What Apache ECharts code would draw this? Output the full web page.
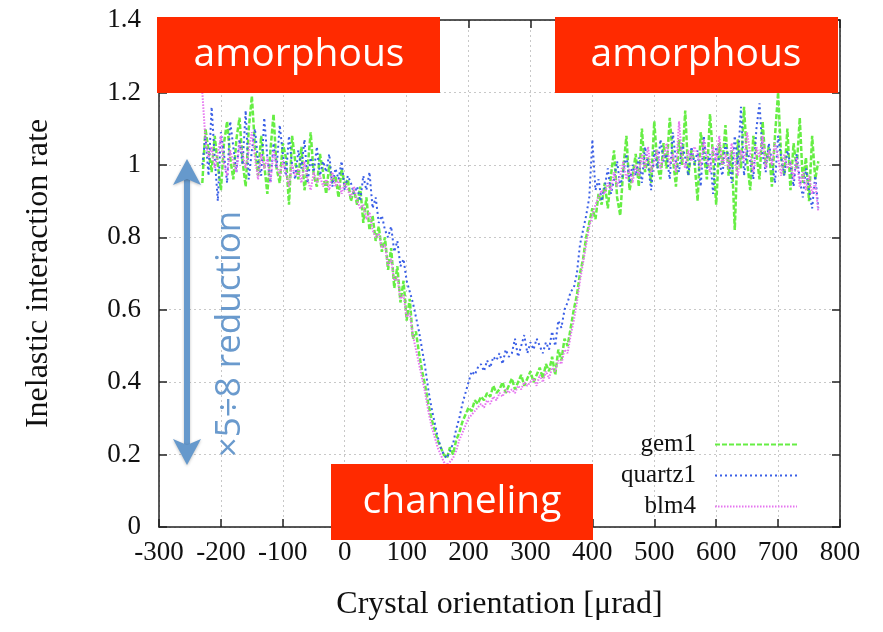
<!DOCTYPE html>
<html>
<head>
<meta charset="utf-8">
<script src="https://cdn.jsdelivr.net/npm/echarts@6/dist/echarts.min.js"></script>
<style>html,body{margin:0;padding:0;background:#fff;}#c{width:883px;height:632px;}</style>
</head>
<body>
<div id="c"></div>
<script>
// sampling grid of crystal orientation [µrad]
const xStart = -230;
const xStep = 5;

const gem1 = [
0.95,1.10,1.04,0.98,1.08,1.00,0.93,1.06,1.12,1.02,
0.96,1.07,1.13,1.01,0.94,1.10,1.19,1.05,0.97,1.08,
1.00,0.92,1.04,1.14,0.99,0.95,1.06,1.02,0.89,1.08,
1.01,0.96,1.05,0.93,0.99,1.09,0.97,0.94,1.03,0.98,
0.92,1.00,0.95,0.97,0.91,0.99,0.94,0.96,0.90,0.93,
0.89,0.94,0.84,0.91,0.82,0.86,0.79,0.83,0.76,0.80,
0.71,0.77,0.66,0.72,0.62,0.68,0.57,0.63,0.52,0.54,
0.48,0.43,0.39,0.34,0.30,0.27,0.24,0.22,0.20,0.19,
0.22,0.20,0.24,0.26,0.29,0.31,0.33,0.32,0.35,0.34,
0.36,0.35,0.37,0.36,0.39,0.37,0.38,0.40,0.37,0.39,
0.41,0.38,0.40,0.42,0.39,0.41,0.43,0.40,0.42,0.44,
0.41,0.45,0.43,0.47,0.42,0.49,0.46,0.52,0.50,0.55,
0.60,0.64,0.70,0.74,0.80,0.84,0.88,0.85,0.92,0.89,
0.95,0.88,0.97,1.04,0.91,0.86,0.99,1.08,0.93,0.97,
1.03,0.94,1.10,0.98,1.02,0.95,1.12,1.00,0.96,1.06,
0.99,1.13,1.02,0.94,1.07,1.00,1.15,0.97,1.04,1.01,
0.90,1.09,1.03,0.96,1.14,1.02,0.89,1.06,1.00,1.11,
0.97,1.04,0.82,1.07,0.99,1.16,1.01,0.93,1.08,1.03,
0.96,1.12,1.00,1.05,0.94,1.08,1.20,1.02,0.97,1.10,
0.93,1.06,0.99,1.13,0.95,1.02,0.90,1.08,0.96,1.01
];

const quartz1 = [
1.00,1.08,0.97,1.16,1.02,0.90,1.09,1.03,0.95,1.12,
1.05,0.98,1.07,1.00,1.15,0.96,1.04,1.10,1.01,0.97,
1.13,1.02,0.95,1.06,0.99,1.11,1.03,0.97,1.08,1.00,
0.96,1.04,0.99,1.07,0.95,1.02,0.98,1.05,0.97,1.01,
0.98,1.03,0.94,0.99,0.96,1.01,0.93,0.97,0.95,0.92,
0.94,0.90,0.97,0.93,0.98,0.88,0.91,0.84,0.86,0.82,
0.80,0.83,0.76,0.79,0.72,0.74,0.68,0.65,0.62,0.58,
0.54,0.49,0.44,0.38,0.33,0.29,0.25,0.22,0.20,0.19,
0.21,0.23,0.27,0.30,0.34,0.37,0.40,0.43,0.42,0.44,
0.45,0.43,0.46,0.44,0.47,0.46,0.48,0.45,0.49,0.47,
0.48,0.52,0.47,0.50,0.53,0.48,0.51,0.49,0.52,0.50,
0.48,0.51,0.49,0.54,0.50,0.57,0.55,0.60,0.62,0.65,
0.66,0.70,0.78,0.82,0.86,0.91,1.07,0.93,0.96,0.90,
0.94,0.99,0.92,0.96,1.01,0.94,0.98,1.03,0.95,1.00,
0.97,1.02,0.95,1.05,1.00,0.93,1.04,0.99,1.07,1.01,
1.03,0.96,1.09,1.01,0.98,1.06,1.02,0.97,1.05,1.00,
1.04,0.94,1.08,0.99,1.03,0.92,1.05,1.01,0.97,1.06,
1.02,0.95,1.08,1.00,1.16,0.97,1.04,1.01,0.96,1.10,
1.17,1.03,0.98,1.06,1.01,0.95,1.08,1.02,0.97,1.04,
1.00,0.94,1.03,0.96,0.91,0.99,0.93,0.88,0.97,0.88
];

const blm4 = [
1.20,1.07,1.02,1.05,0.99,1.03,1.08,1.00,0.97,1.04,
1.01,0.98,1.06,1.03,0.99,1.04,1.09,1.02,0.96,1.03,
0.99,1.02,0.95,1.04,1.00,0.97,1.01,0.98,0.94,1.00,
0.97,0.99,0.95,1.01,0.96,0.93,0.98,0.95,0.97,0.94,
0.96,0.93,0.98,0.94,0.96,0.92,0.95,0.93,0.91,0.94,
0.90,0.88,0.89,0.85,0.87,0.82,0.80,0.81,0.77,0.78,
0.72,0.74,0.68,0.69,0.63,0.64,0.58,0.59,0.53,0.49,
0.45,0.41,0.37,0.32,0.28,0.25,0.22,0.20,0.18,0.17,
0.18,0.19,0.21,0.24,0.26,0.28,0.30,0.31,0.32,0.33,
0.34,0.33,0.35,0.34,0.36,0.35,0.37,0.36,0.38,0.37,
0.38,0.37,0.39,0.38,0.40,0.39,0.40,0.41,0.39,0.42,
0.40,0.43,0.41,0.44,0.43,0.46,0.45,0.49,0.48,0.53,
0.57,0.62,0.68,0.73,0.78,0.83,0.86,0.89,0.91,0.93,
0.92,0.95,0.93,0.98,0.94,0.97,1.01,0.96,0.99,0.95,
1.00,0.97,1.03,0.99,1.05,0.98,1.01,1.04,0.99,1.02,
1.06,1.00,1.03,0.98,1.12,1.02,0.99,1.04,1.01,1.05,
1.03,0.99,1.07,1.02,0.98,1.05,1.01,1.08,1.00,1.03,
0.99,1.06,1.02,0.97,1.04,1.01,1.09,1.03,0.98,1.05,
1.02,1.08,0.99,1.04,1.00,1.06,1.02,0.97,1.03,0.99,
1.01,0.96,1.02,0.94,0.98,0.93,0.97,0.92,0.95,0.87
];

const seriesNames = ['gem1', 'quartz1', 'blm4'];
const xTitle = 'Crystal orientation [\u03bcrad]';
const yTitle = 'Inelastic interaction rate';
const boxLabels = ['amorphous', 'amorphous', 'channeling'];
const arrowLabel = '\u00d75\u00f78 reduction';

function pairs(arr) { return arr.map((v, i) => [xStart + i * xStep, v]); }

const serif = 'Liberation Serif';
const chart = echarts.init(document.getElementById('c'), null, {renderer: 'canvas'});

const axisCommon = {
  axisLine: {show: true, onZero: false, lineStyle: {color: '#222', width: 1.5}},
  axisTick: {show: true, inside: true, length: 8, lineStyle: {color: '#222', width: 1.5}},
};

const boxFont = '39px "Open Sans"';

chart.setOption({
  animation: false,
  backgroundColor: '#fff',
  grid: {left: 159, right: 43, top: 20, bottom: 105},
  legend: {
    orient: 'vertical',
    align: 'right',
    right: 80,
    top: 427,
    itemWidth: 82,
    itemHeight: 14,
    itemGap: 6,
    data: seriesNames,
    itemStyle: {opacity: 0},
    textStyle: {fontFamily: serif, fontSize: 25, color: '#111', padding: [0, 14, 0, 0]}
  },
  xAxis: [
    Object.assign({
      type: 'value', min: -300, max: 800, interval: 100, position: 'bottom',
      name: xTitle, nameLocation: 'middle', nameGap: 62,
      nameTextStyle: {fontFamily: serif, fontSize: 32, color: '#111'},
      axisLabel: {fontFamily: serif, fontSize: 27, color: '#111', margin: 12},
      splitLine: {show: true, lineStyle: {color: '#c8c8c8', type: [2, 3], width: 1}}
    }, axisCommon),
    Object.assign({
      type: 'value', min: -300, max: 800, interval: 100, position: 'top',
      axisLabel: {show: false}, splitLine: {show: false}
    }, axisCommon)
  ],
  yAxis: [
    Object.assign({
      type: 'value', min: 0, max: 1.4, interval: 0.2, position: 'left',
      name: yTitle, nameLocation: 'middle', nameGap: 104,
      nameTextStyle: {fontFamily: serif, fontSize: 32, color: '#111'},
      axisLabel: {fontFamily: serif, fontSize: 27, color: '#111', margin: 18},
      splitLine: {show: true, lineStyle: {color: '#c8c8c8', type: [2, 3], width: 1}}
    }, axisCommon),
    Object.assign({
      type: 'value', min: 0, max: 1.4, interval: 0.2, position: 'right',
      axisLabel: {show: false}, splitLine: {show: false}
    }, axisCommon)
  ],
  series: [
    {name: 'gem1', type: 'line', data: pairs(gem1), showSymbol: false, symbol: 'none',
     color: '#66ee44', lineStyle: {color: '#66ee44', width: 2.5, type: [5, 2]}, z: 2},
    {name: 'quartz1', type: 'line', data: pairs(quartz1), showSymbol: false, symbol: 'none',
     color: '#3a5fe6', lineStyle: {color: '#3a5fe6', width: 2, type: [2, 3]}, z: 3},
    {name: 'blm4', type: 'line', data: pairs(blm4), showSymbol: false, symbol: 'none',
     color: '#e674f0', lineStyle: {color: '#e674f0', width: 2, type: [1.5, 1.5]}, z: 4}
  ],
  graphic: [
    {type: 'rect', z: 100, shape: {x: 157, y: 17, width: 283, height: 76}, style: {fill: '#ff2a00'}},
    {type: 'text', z: 101, x: 299, y: 55, style: {text: boxLabels[0], fill: '#fff', font: boxFont, textAlign: 'center', textVerticalAlign: 'middle'}},
    {type: 'rect', z: 100, shape: {x: 555, y: 17, width: 283, height: 76}, style: {fill: '#ff2a00'}},
    {type: 'text', z: 101, x: 696, y: 55, style: {text: boxLabels[1], fill: '#fff', font: boxFont, textAlign: 'center', textVerticalAlign: 'middle'}},
    {type: 'rect', z: 100, shape: {x: 331, y: 464, width: 262, height: 76}, style: {fill: '#ff2a00'}},
    {type: 'text', z: 101, x: 462, y: 502, style: {text: boxLabels[2], fill: '#fff', font: boxFont, textAlign: 'center', textVerticalAlign: 'middle'}},
    {type: 'line', z: 50, shape: {x1: 187, y1: 178, x2: 187, y2: 446}, style: {stroke: '#6699cc', lineWidth: 6, shadowBlur: 3, shadowColor: 'rgba(0,0,0,0.25)', shadowOffsetY: 1}},
    {type: 'polygon', z: 50, shape: {points: [[187, 159], [173, 185], [187, 179], [201, 185]]}, style: {fill: '#6699cc', shadowBlur: 3, shadowColor: 'rgba(0,0,0,0.25)', shadowOffsetY: 1}},
    {type: 'polygon', z: 50, shape: {points: [[187, 465], [173, 439], [187, 445], [201, 439]]}, style: {fill: '#6699cc', shadowBlur: 3, shadowColor: 'rgba(0,0,0,0.25)', shadowOffsetY: 1}},
    {type: 'text', z: 50, x: 230, y: 334, rotation: Math.PI / 2, style: {text: arrowLabel, fill: '#6a9acd', font: '35px "Open Sans"', textAlign: 'center', textVerticalAlign: 'middle'}}
  ]
});
</script>
</body>
</html>
